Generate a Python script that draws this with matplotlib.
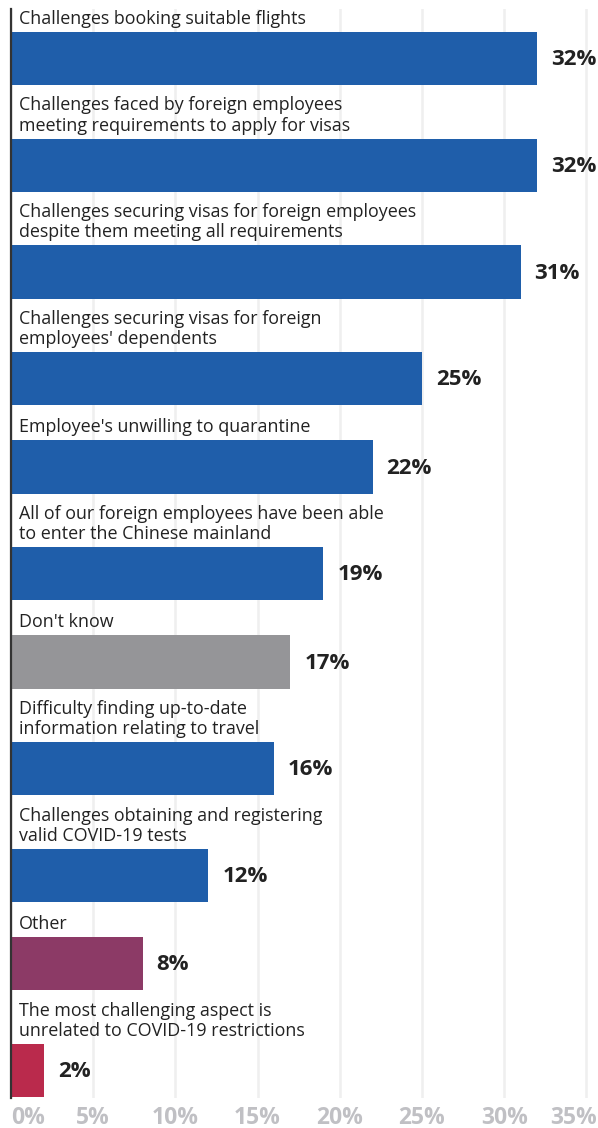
import matplotlib.pyplot as plt

labels = [
    "Challenges booking suitable flights",
    "Challenges faced by foreign employees\nmeeting requirements to apply for visas",
    "Challenges securing visas for foreign employees\ndespite them meeting all requirements",
    "Challenges securing visas for foreign\nemployees' dependents",
    "Employee's unwilling to quarantine",
    "All of our foreign employees have been able\nto enter the Chinese mainland",
    "Don't know",
    "Difficulty finding up-to-date\ninformation relating to travel",
    "Challenges obtaining and registering\nvalid COVID-19 tests",
    "Other",
    "The most challenging aspect is\nunrelated to COVID-19 restrictions",
]
values = [32, 32, 31, 25, 22, 19, 17, 16, 12, 8, 2]
kinds = ["main"] * 6 + ["unsure"] + ["main"] * 2 + ["other", "unrelated"]
ticks = [0, 5, 10, 15, 20, 25, 30, 35]

palette = {
    "main": "#1f5eaa",
    "unsure": "#959598",
    "other": "#8c3a66",
    "unrelated": "#ba2a4c",
}

plt.rcParams['font.family'] = ['Open Sans', 'DejaVu Sans']

W, H = 598, 1128
top, bottom, left, right = 9, 1098, 11, 597
fig = plt.figure(figsize=(W / 100, H / 100), dpi=100)
ax = fig.add_axes([left / W, (H - bottom) / H, (right - left) / W, (bottom - top) / H])
xmax = 35.65
ax.set_xlim(0, xmax)
ax.set_ylim(bottom - top, 0)

# pixel -> data on the x axis
px = xmax / (right - left)

bar_h = 53.3
line_h = 18.4
cursor = -12.0  # bottom of an imaginary bar above the first one
for lab, v, k in zip(labels, values, kinds):
    n = lab.count("\n") + 1
    bar_top = cursor + 16.6 + line_h * n
    yc = bar_top + bar_h / 2
    ax.barh(yc, v, height=bar_h, color=palette[k], zorder=2)
    ax.text(8 * px, bar_top - 4, lab, ha='left', va='bottom', fontsize=12.9,
            color='#222222', linespacing=1.16)
    ax.text(v + 14 * px, yc + 1, f"{v}%", ha='left', va='center', fontsize=16,
            fontweight='bold', color='#222222')
    cursor = bar_top + bar_h

tick_style = dict(fontsize=16.5, fontweight='bold', color='#c0c0c4')
ax.set_xticks(ticks)
# the last label sits flush with the right edge, drawn separately below
ax.set_xticklabels([f"{t}%" for t in ticks[:-1]] + [""])
ax.set_yticks([])
ax.tick_params(axis='x', length=0, pad=5.5, labelsize=16.5, labelcolor='#c0c0c4')
for t in ax.get_xticklabels():
    t.set_fontweight('bold')
ax.get_xticklabels()[0].set_ha('left')
ax.annotate(f"{ticks[-1]}%", xy=(1.0, 0), xycoords='axes fraction',
            xytext=(0, -5.5), textcoords='offset points',
            ha='right', va='top', **tick_style)

ax.grid(axis='x', color='#efefef', linewidth=1.8, zorder=0)
ax.set_axisbelow(True)
for s in ['top', 'right', 'bottom']:
    ax.spines[s].set_visible(False)
ax.spines['left'].set_color('#333333')
ax.spines['left'].set_linewidth(1.6)
ax.spines['left'].set_zorder(3)

fig.savefig("out.png", dpi=100)
